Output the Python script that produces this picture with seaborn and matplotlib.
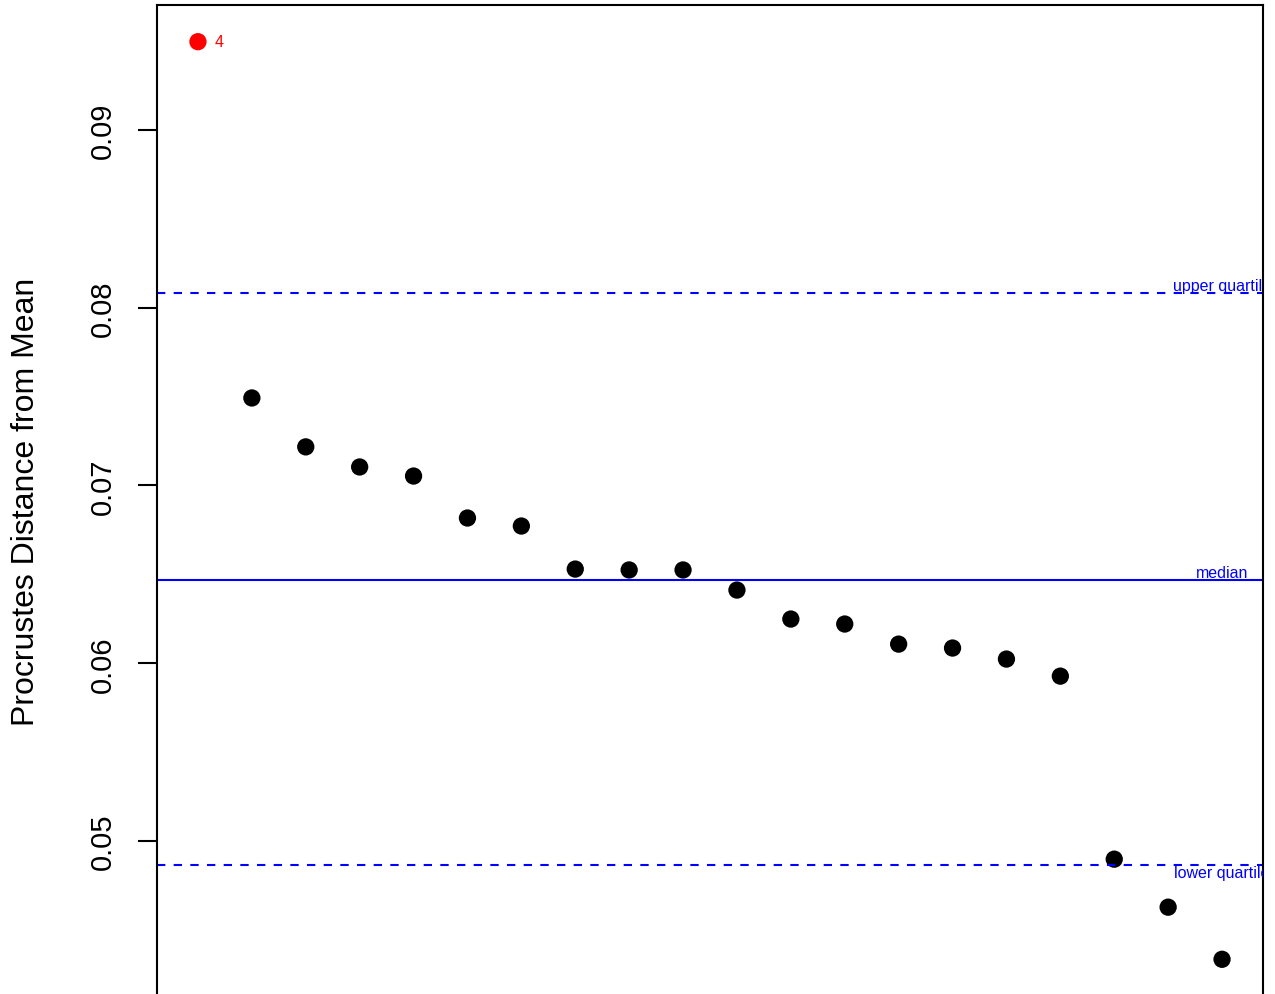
import matplotlib
matplotlib.use("Agg")
import matplotlib.pyplot as plt
import numpy as np
import pandas as pd
import seaborn as sns

# Procrustes distances sorted in decreasing order (specimen 4 is the outlier)
distances = [0.09495, 0.07492, 0.07217, 0.07104, 0.07053, 0.06817, 0.06772,
             0.06530, 0.06525, 0.06525, 0.06412, 0.06249, 0.06221, 0.06108,
             0.06086, 0.06024, 0.05928, 0.04899, 0.04629, 0.04336]
outlier_flag = ["outlier"] + ["normal"] * 19
outlier_labels = ["4"]

upper_quartile = 0.08083
median_value = 0.06468
lower_quartile = 0.04865

y_ticks = [0.05, 0.06, 0.07, 0.08, 0.09]

df = pd.DataFrame({
    "rank": np.arange(1, len(distances) + 1),
    "distance": distances,
    "group": outlier_flag,
})

sns.set_style("white")
plt.rcParams["font.family"] = ["Liberation Sans", "DejaVu Sans"]

fig = plt.figure(figsize=(12.75, 9.95), dpi=100)
ax = fig.add_axes([157 / 1275, -2 / 995, (1263 - 157) / 1275, (997 - 6) / 995])

sns.scatterplot(data=df, x="rank", y="distance", hue="group",
                palette={"outlier": "red", "normal": "black"},
                s=155, edgecolor="none", legend=False, ax=ax)

ax.axhline(upper_quartile, color="blue", lw=1.5, ls=(0, (4, 4)))
ax.axhline(median_value, color="blue", lw=1.5)
ax.axhline(lower_quartile, color="blue", lw=1.5, ls=(0, (4, 4)))

ax.text(20, upper_quartile, "upper quartile", color="blue", fontsize=11.5,
        ha="center", va="bottom", clip_on=True)
ax.text(20, median_value, "median", color="blue", fontsize=11.5,
        ha="center", va="bottom", clip_on=True)
ax.text(20, lower_quartile, "lower quartile", color="blue", fontsize=11.5,
        ha="center", va="top", clip_on=True)

# label the outlier to the right of its point
ax.annotate(outlier_labels[0], (1, distances[0]), xytext=(12, 0),
            textcoords="offset points", color="red", fontsize=11.5,
            ha="left", va="center")

x_pad = 0.04 * (len(distances) - 1)
ax.set_xlim(1 - x_pad, len(distances) + x_pad)
y_rng = max(distances) - min(distances)
ax.set_ylim(min(distances) - 0.04 * y_rng, max(distances) + 0.04 * y_rng)

ax.set_yticks(y_ticks)
ax.set_yticklabels([f"{t:.2f}" for t in y_ticks], rotation=90, va="center",
                   fontsize=21)
ax.tick_params(axis="y", direction="out", length=14, width=1.5, pad=15,
               left=True, colors="black")
ax.set_xticks([])
ax.set_xlabel("")
ax.set_ylabel("Procrustes Distance from Mean", fontsize=23, labelpad=34,
              color="black")

for side in ax.spines.values():
    side.set_color("black")
    side.set_linewidth(1.5)

fig.savefig("out.png", dpi=100)
